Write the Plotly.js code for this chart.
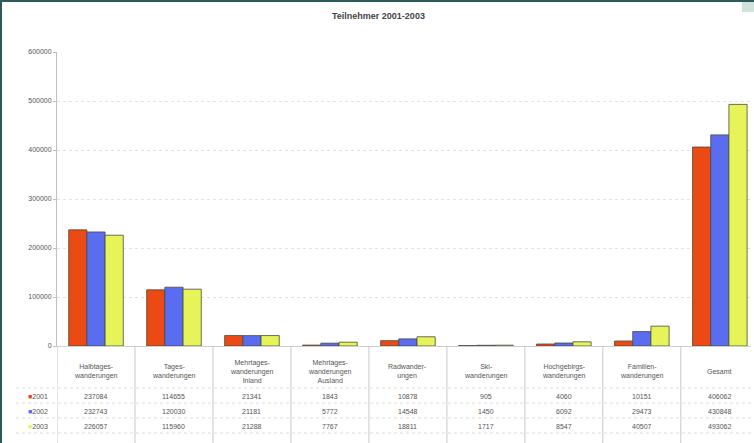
<!DOCTYPE html>
<html>
<head>
<meta charset="utf-8">
<script src="https://cdn.plot.ly/plotly-3.0.1.min.js"></script>
<style>
html,body{margin:0;padding:0;background:#fff;}
#wrap{width:754px;height:443px;box-sizing:border-box;border-left:2px solid #2b5a58;border-top:2px solid #2b5a58;position:relative;overflow:hidden;}
#chart{width:752px;height:441px;}
#corner{position:absolute;right:0;top:0;width:12px;height:10px;background:#cfe3dc;}
</style>
</head>
<body>
<div id="wrap"><div id="chart"></div><div id="corner"></div></div>
<script>
// ---- data ----
const categories = ["Halbtages-<br>wanderungen","Tages-<br>wanderungen","Mehrtages-<br>wanderungen<br>Inland","Mehrtages-<br>wanderungen<br>Ausland","Radwander-<br>ungen","Ski-<br>wanderungen","Hochgebirgs-<br>wanderungen","Familien-<br>wanderungen","Gesamt"];
const years = ["2001","2002","2003"];
const v2001 = [237084,114655,21341,1843,10878,905,4060,10151,406062];
const v2002 = [232743,120030,21181,5772,14548,1450,6092,29473,430848];
const v2003 = [226057,115960,21288,7767,18811,1717,8547,40507,493062];
const yTicks = [0,100000,200000,300000,400000,500000,600000];
const colors = ["#ec4a14","#5a6cf0","#e6f45a"];

const series = [v2001,v2002,v2003];
const xIdx = categories.map((c,i)=>i);

// plot area pixel geometry (inside 752x441 chart div)
const L=55, T=50, W=694, H=294; // plot area
const B = T+H; // 344
const py = p => (B - p)/H;       // pixel y -> paper y
const px = p => (p - L)/W;       // pixel x -> paper x

const traces = series.map((s,k)=>({
  type:"bar", x:xIdx, y:s, name:years[k],
  marker:{color:colors[k], line:{color:"#4a4a3a", width:0.8}},
  hoverinfo:"skip"
}));

const annotations = [];
// category labels (table header)
categories.forEach((c,i)=>{
  annotations.push({xref:"x", yref:"paper", x:i, y:py(369), text:c, showarrow:false,
    font:{size:7, color:"#555"}, xanchor:"center", yanchor:"middle", align:"center"});
});
// data rows
const rowY = [394,409,424];
series.forEach((s,k)=>{
  annotations.push({xref:"paper", yref:"paper", x:px(48), y:py(rowY[k]), xanchor:"right", yanchor:"middle",
    text:'<span style="color:'+colors[k]+'">■</span>'+years[k], showarrow:false, font:{size:7,color:"#555"}});
  s.forEach((v,i)=>{
    annotations.push({xref:"x", yref:"paper", x:i, y:py(rowY[k]), text:String(v), showarrow:false,
      font:{size:7,color:"#555"}, xanchor:"center", yanchor:"middle"});
  });
});
// title
annotations.push({xref:"paper", yref:"paper", x:px(376), y:py(14), text:"<b>Teilnehmer 2001-2003</b>",
  showarrow:false, font:{size:9,color:"#444"}, xanchor:"center", yanchor:"middle"});

const shapes = [];
for (let i=-1;i<categories.length;i++){
  shapes.push({type:"line", xref:"x", yref:"paper", x0:i+0.5, x1:i+0.5, y0:py(B), y1:py(441),
    line:{color:"#c8c8c8", width:1}});
}
[386,401,416,431].forEach(p=>{
  shapes.push({type:"line", xref:"paper", yref:"paper", x0:px(14), x1:1, y0:py(p), y1:py(p),
    line:{color:"#dddddd", width:1, dash:"dot"}});
});

const layout = {
  width:752, height:441,
  margin:{l:L, r:752-L-W, t:T, b:441-B, pad:0},
  paper_bgcolor:"#fff", plot_bgcolor:"#fff",
  font:{family:"Liberation Sans, Arial, sans-serif", size:7, color:"#555"},
  showlegend:false,
  barmode:"group", bargap:0.3, bargroupgap:0,
  xaxis:{range:[-0.5,8.4], showticklabels:false, showgrid:false, zeroline:false, showline:true, linecolor:"#cfcfcf", ticks:""},
  yaxis:{range:[0,600000], tickvals:yTicks, ticktext:yTicks.map(String), showgrid:true, gridcolor:"#e2e2e2", griddash:"dot",
    zeroline:false, showline:true, linecolor:"#c0c0c0", ticks:"outside", ticklen:3, tickcolor:"#c0c0c0",
    tickfont:{size:7,color:"#555"}},
  annotations, shapes
};
Plotly.newPlot("chart", traces, layout, {displayModeBar:false, staticPlot:true});
</script>
</body>
</html>
